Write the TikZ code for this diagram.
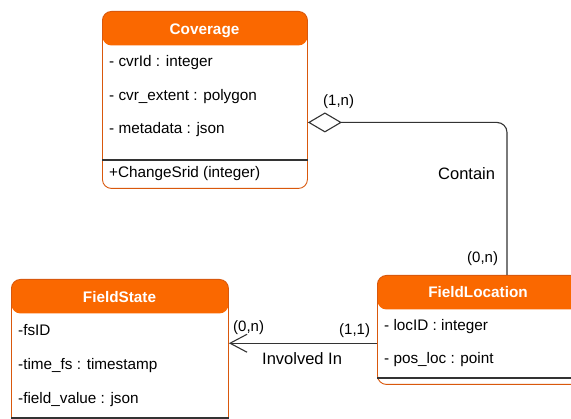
\documentclass[tikz,border=0pt]{standalone}
\usepackage{fontspec}
\setmainfont{Liberation Sans}
\usetikzlibrary{positioning}
\usetikzlibrary{arrows.meta}
\definecolor{headfill}{HTML}{FA6800}
\definecolor{boxline}{HTML}{D9580C}
\definecolor{linegray}{HTML}{333333}
\newcommand{\attrsize}{\fontsize{15.3}{18}\selectfont}

\begin{document}
\begin{tikzpicture}[x=1pt, y=-1pt,
	classbox/.style={draw=boxline, line width=0.9pt, fill=white, rounded corners=9pt,
		inner sep=0pt, anchor=north west,
		path picture={\fill[headfill] (path picture bounding box.north west) rectangle ([yshift=-34pt]path picture bounding box.north east);}},
	headtext/.style={anchor=base, inner sep=0pt, text=white, font=\attrsize\bfseries},
	attr/.style={anchor=base west, inner sep=0pt, font=\attrsize},
	divider/.style={draw=linegray, line width=1.1pt},
	mult/.style={anchor=base west, inner sep=0pt, font=\fontsize{15}{18}\selectfont},
	relname/.style={anchor=base west, inner sep=0pt, font=\fontsize{16.5}{20}\selectfont},
	link/.style={draw=linegray, line width=1.1pt}]
	\useasboundingbox (0,0) rectangle (571,419);
	\clip (0,0) rectangle (571,419);
	
	\node[classbox, minimum width=205pt, minimum height=177pt] (coverage) at (102,11) {};
	\node[headtext] (coveragetitle) at (204.5,34.3) {Coverage};
	\node[attr] (cvrid) at (109,66.7) {- cvrId : integer};
	\node[attr] (cvrextent) at (109,101) {- cvr\_extent : polygon};
	\node[attr] (metadata) at (109,133.3) {- metadata : json};
	\node[attr] (changesrid) at (109,177.3) {+ChangeSrid (integer)};
	\draw[divider] (coverage.west |- 0,160) -- (coverage.east |- 0,160);
	
	\node[classbox, minimum width=202pt, minimum height=109pt] (fieldloc) at (377,275) {};
	\node[headtext] (fieldloctitle) at (478,297.3) {FieldLocation};
	\node[attr] (locid) at (384,331) {- locID : integer};
	\node[attr] (posloc) at (384,364) {- pos\_loc : point};
	\draw[divider] (fieldloc.west |- 0,378) -- (fieldloc.east |- 0,378);
	
	\node[classbox, minimum width=217pt, minimum height=148pt] (fieldstate) at (11,279) {};
	\node[headtext] (fieldstatetitle) at (119.5,302.3) {FieldState};
	\node[attr] (fsid) at (18,335.7) {-fsID};
	\node[attr] (timefs) at (18,370) {-time\_fs : timestamp};
	\node[attr] (fieldvalue) at (18,403.3) {-field\_value : json};
	\draw[divider] (fieldstate.west |- 0,418) -- (fieldstate.east |- 0,418);
	
	% Contain
	\draw[link, rounded corners=10pt, {Diamond[open, fill=white, length=34pt, width=20pt]}-]
		([yshift=-22.5pt]coverage.east) -| ([xshift=130pt]fieldloc.north west);
	\node[mult] (containfrom) at (323,106) {(1,n)};
	\node[relname] (containlabel) at (438,179.3) {Contain};
	\node[mult] (containto) at (467,263) {(0,n)};
	
	% Involved In
	\draw[link, -{Straight Barb[length=17pt, width=18pt]}]
		([yshift=-13.3pt]fieldloc.west) -- ([yshift=-13.3pt]fieldloc.west -| fieldstate.east);
	\node[mult] (involveto) at (233,331.7) {(0,n)};
	\node[mult] (involvefrom) at (339,335) {(1,1)};
	\node[relname] (involvelabel) at (262,365) {Involved In};
\end{tikzpicture}
\end{document}
